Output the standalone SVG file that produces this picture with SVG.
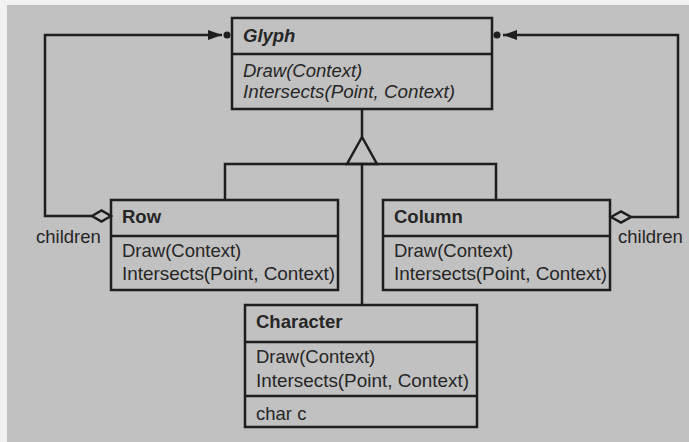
<svg xmlns="http://www.w3.org/2000/svg" width="689" height="442" viewBox="0 0 689 442">
<style>
.box{fill:none;stroke:#1e1e1e;stroke-width:2.5}
.ln{fill:none;stroke:#1e1e1e;stroke-width:2.5}
.t{font-family:"Liberation Sans",Arial,sans-serif;font-size:18.5px;fill:#262626}
.b{font-weight:bold}
.i{font-style:italic}
</style>
<defs>
<marker id="ah" viewBox="0 0 14 10" refX="14" refY="5" markerWidth="14" markerHeight="10" markerUnits="userSpaceOnUse" orient="auto">
<path d="M0,0 L14,5 L0,10 Z" fill="#1e1e1e"/>
</marker>
</defs>
<rect x="0" y="0" width="689" height="442" fill="#f2f2f2"/>
<rect x="7" y="5" width="682" height="437" fill="#c1c1c1"/>
<g id="connectors">
<path class="ln" d="M362,109 V137"/>
<path class="ln" d="M362,137 L347,164 H377 Z"/>
<path class="ln" d="M225,200 V164 H496 V200"/>
<path class="ln" d="M362,164 V305"/>
<path class="ln" d="M92,216 H45 V35 H222" marker-end="url(#ah)"/>
<path d="M92,216 L101.5,210.5 L111,216 L101.5,221.5 Z" fill="#c1c1c1" stroke="#1e1e1e" stroke-width="2.5"/>
<circle cx="227" cy="35" r="3.5" fill="#1e1e1e"/>
<path class="ln" d="M631,217 H678 V35 H503" marker-end="url(#ah)"/>
<path d="M611,217 L621,211.5 L631,217 L621,222.5 Z" fill="#c1c1c1" stroke="#1e1e1e" stroke-width="2.5"/>
<circle cx="497" cy="35" r="3.5" fill="#1e1e1e"/>
<text class="t" x="36" y="243">children</text>
<text class="t" x="618" y="243">children</text>
</g>
<g id="glyph">
<rect class="box" x="232" y="18" width="260" height="91"/>
<line class="ln" x1="232" y1="54" x2="492" y2="54"/>
<text class="t b i" x="243" y="42">Glyph</text>
<text class="t i" x="243" y="77">Draw(Context)</text>
<text class="t i" x="243" y="98" textLength="212" lengthAdjust="spacingAndGlyphs">Intersects(Point, Context)</text>
</g>
<g id="row">
<rect class="box" x="111" y="200" width="227" height="90"/>
<line class="ln" x1="111" y1="236" x2="338" y2="236"/>
<text class="t b" x="122" y="223">Row</text>
<text class="t" x="122" y="257">Draw(Context)</text>
<text class="t" x="122" y="280" textLength="213" lengthAdjust="spacingAndGlyphs">Intersects(Point, Context)</text>
</g>
<g id="column">
<rect class="box" x="383" y="200" width="227" height="90"/>
<line class="ln" x1="383" y1="236" x2="610" y2="236"/>
<text class="t b" x="394" y="223">Column</text>
<text class="t" x="394" y="257">Draw(Context)</text>
<text class="t" x="394" y="280" textLength="213" lengthAdjust="spacingAndGlyphs">Intersects(Point, Context)</text>
</g>
<g id="character">
<rect class="box" x="245" y="305" width="232" height="122"/>
<line class="ln" x1="245" y1="342" x2="477" y2="342"/>
<line class="ln" x1="245" y1="396" x2="477" y2="396"/>
<text class="t b" x="256" y="328">Character</text>
<text class="t" x="256" y="363">Draw(Context)</text>
<text class="t" x="256" y="387" textLength="213" lengthAdjust="spacingAndGlyphs">Intersects(Point, Context)</text>
<text class="t" x="256" y="420">char c</text>
</g>
</svg>
